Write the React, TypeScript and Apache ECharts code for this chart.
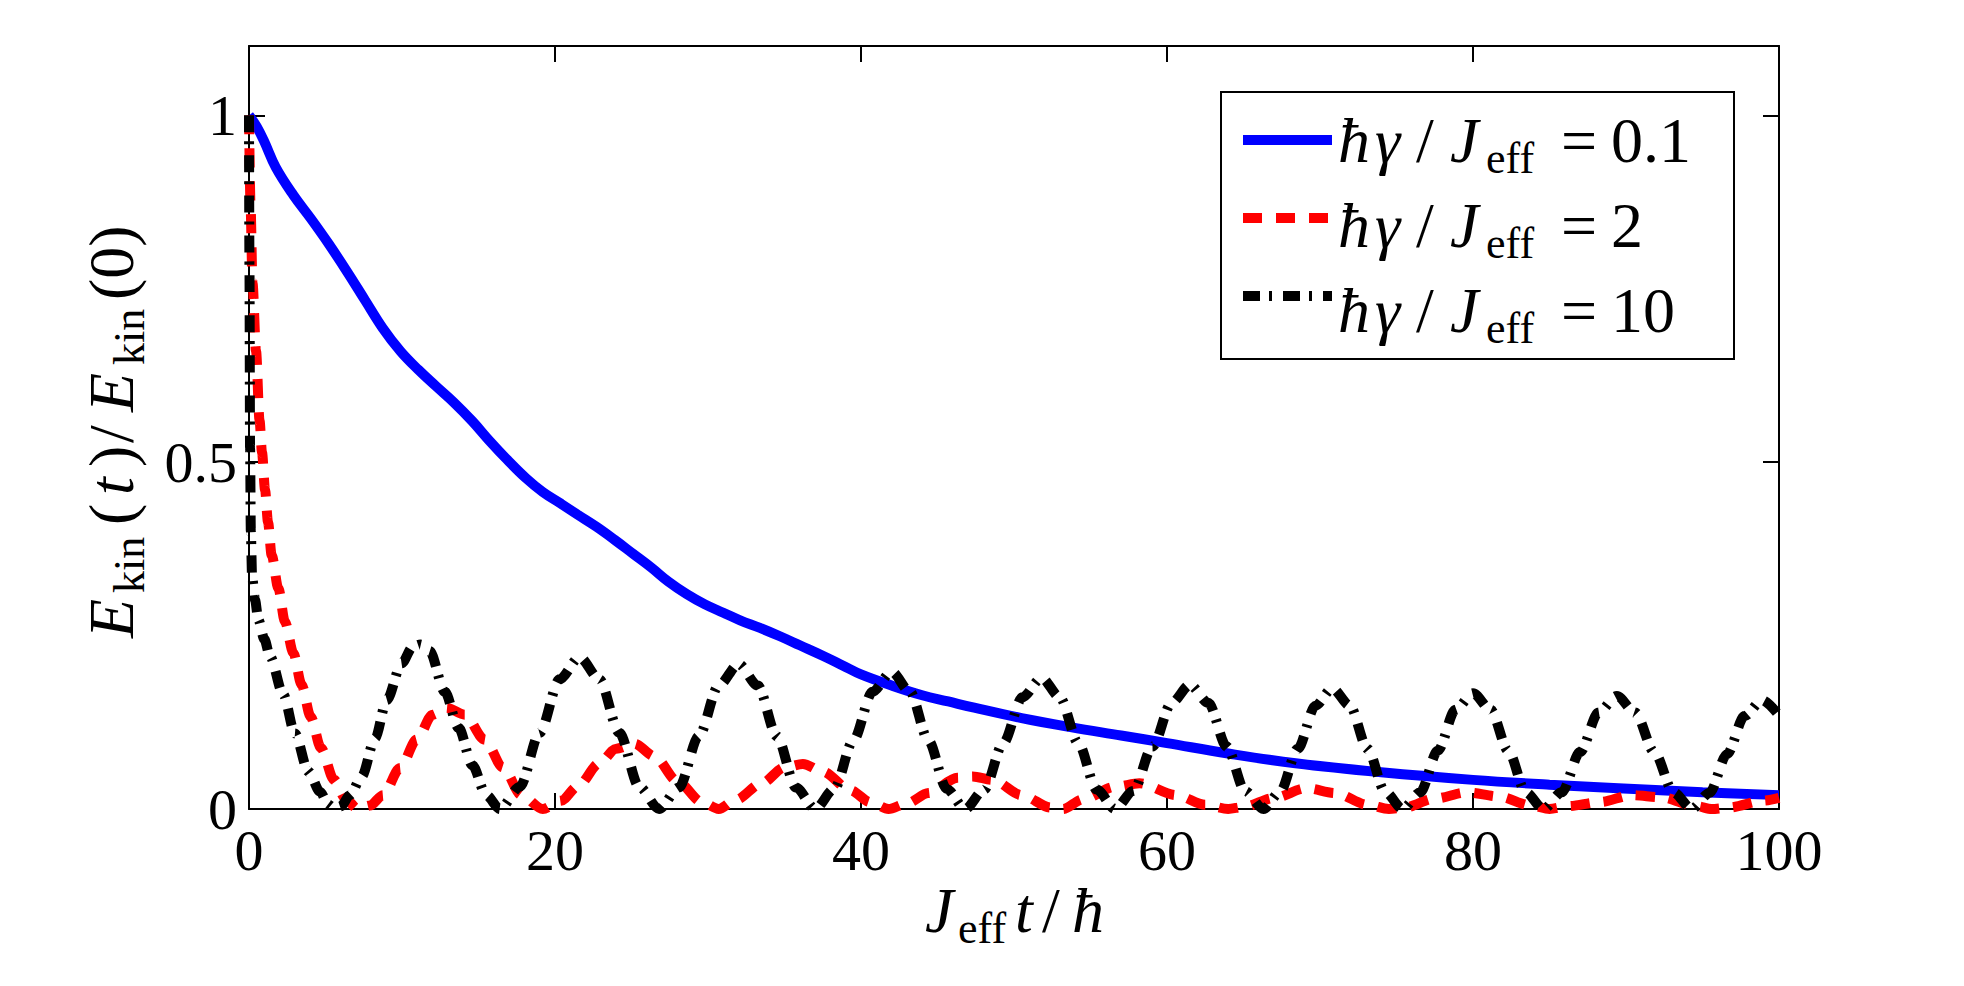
import React, { useEffect, useRef } from "react";
import * as echarts from "echarts";

// ---- data ----
const T_BLUE = [0, 0.5, 1.0, 1.75, 2.9, 4.08, 5.2, 6.4, 7.6, 8.75, 9.9, 11.08, 12.2, 13.4, 14.6, 15.75, 16.9, 18.1, 19.2, 20.4, 21.5, 22.7, 23.9, 25.1, 26.3, 27.4, 28.6, 29.8, 31.0, 32.1, 33.4, 34.7, 36.0, 37.5, 38.8, 40.0, 42.0, 44.0, 45.7, 47.4, 50.5, 53.7, 57.0, 60.0, 64.0, 68.4, 74.0, 80.0, 85.0, 89.5, 95.0, 100];
const V_BLUE = [1.0, 0.984, 0.962, 0.925, 0.885, 0.85, 0.815, 0.775, 0.733, 0.693, 0.66, 0.633, 0.61, 0.586, 0.559, 0.53, 0.503, 0.477, 0.457, 0.44, 0.424, 0.407, 0.388, 0.368, 0.348, 0.328, 0.31, 0.295, 0.283, 0.272, 0.261, 0.249, 0.236, 0.221, 0.207, 0.194, 0.178, 0.164, 0.155, 0.146, 0.131, 0.118, 0.106, 0.095, 0.08, 0.066, 0.053, 0.042, 0.035, 0.03, 0.024, 0.02];

const T_RED = [0, 0.1, 0.23, 0.46, 0.69, 0.85, 1.05, 1.24, 1.48, 1.92, 2.35, 2.9, 3.44, 4.03, 4.7, 5.56, 6.3, 7.1, 7.9, 8.76, 9.87, 10.96, 12.0, 12.9, 14.1, 15.4, 16.6, 17.8, 19.2, 20.4, 21.5, 22.9, 24.0, 25.2, 26.5, 28.0, 29.6, 30.7, 31.8, 33.5, 35.0, 36.2, 37.5, 39.3, 40.6, 41.8, 43.0, 44.4, 46.3, 47.3, 48.6, 50.5, 52.4, 53.2, 54.5, 56.6, 58.2, 60.6, 62.5, 64.0, 65.0, 67.0, 69.1, 71.0, 73.1, 74.5, 75.5, 77.5, 79.6, 81.7, 83.8, 85.0, 86.2, 88.3, 90.4, 92.3, 94.6, 95.6, 96.7, 99.0, 100];
const V_RED = [1.0, 0.87, 0.758, 0.66, 0.56, 0.514, 0.46, 0.414, 0.366, 0.318, 0.27, 0.225, 0.179, 0.133, 0.088, 0.042, 0.015, 0.0, 0.005, 0.02, 0.059, 0.1, 0.136, 0.146, 0.136, 0.1, 0.06, 0.02, 0.0, 0.012, 0.033, 0.066, 0.087, 0.094, 0.076, 0.04, 0.01, 0.0, 0.013, 0.037, 0.06, 0.065, 0.054, 0.027, 0.01, 0.0, 0.008, 0.023, 0.045, 0.047, 0.042, 0.02, 0.002, 0.0, 0.014, 0.032, 0.037, 0.02, 0.006, 0.0, 0.003, 0.016, 0.03, 0.023, 0.006, 0.0, 0.002, 0.015, 0.024, 0.018, 0.005, 0.0, 0.004, 0.01, 0.02, 0.017, 0.004, 0.0, 0.002, 0.012, 0.016];

const T_BLACK = [0, 0.03, 0.07, 0.12, 0.2, 0.39, 0.61, 1.0, 1.37, 2.24, 3.0, 3.88, 4.64, 5.2, 5.6, 6.0, 6.6, 7.37, 8.24, 9.0, 9.98, 10.7, 11.2, 11.8, 12.8, 13.7, 14.6, 15.5, 16.4, 17.7, 19.0, 20.3, 21.6, 22.9, 24.2, 25.5, 26.8, 28.1, 29.4, 30.7, 32.0, 33.25, 34.5, 35.75, 37.0, 38.25, 39.5, 40.75, 42.0, 43.2, 44.4, 45.6, 46.8, 48.05, 49.3, 50.55, 51.8, 53.0, 54.2, 55.4, 56.6, 57.8, 59.05, 60.3, 61.5, 62.7, 63.9, 65.1, 66.3, 67.4, 68.55, 69.7, 70.8, 71.95, 73.1, 74.25, 75.4, 76.55, 77.7, 78.85, 80.0, 81.15, 82.3, 83.45, 84.6, 85.8, 87.0, 88.2, 89.4, 90.6, 91.85, 93.1, 94.3, 95.45, 96.6, 97.75, 98.9, 100];
const V_BLACK = [1.0, 0.78, 0.52, 0.4, 0.335, 0.302, 0.273, 0.245, 0.22, 0.165, 0.109, 0.054, 0.025, 0.006, 0.0, 0.004, 0.02, 0.047, 0.102, 0.157, 0.21, 0.234, 0.237, 0.228, 0.169, 0.117, 0.063, 0.02, 0.0, 0.032, 0.11, 0.187, 0.219, 0.187, 0.11, 0.032, 0.0, 0.031, 0.105, 0.178, 0.209, 0.178, 0.105, 0.031, 0.0, 0.029, 0.099, 0.169, 0.198, 0.169, 0.099, 0.029, 0.0, 0.028, 0.095, 0.161, 0.189, 0.161, 0.095, 0.028, 0.0, 0.026, 0.09, 0.153, 0.179, 0.153, 0.09, 0.026, 0.0, 0.025, 0.087, 0.149, 0.174, 0.149, 0.087, 0.025, 0.0, 0.024, 0.084, 0.143, 0.167, 0.143, 0.084, 0.024, 0.0, 0.024, 0.082, 0.139, 0.163, 0.139, 0.082, 0.024, 0.0, 0.023, 0.079, 0.134, 0.157, 0.135];

const SERIES_NAMES = ["ħγ/J_eff =0.1", "ħγ/J_eff =2", "ħγ/J_eff =10"];
const LEGEND_VALUES = ["0.1", "2", "10"];
const X_TICKS = [0, 20, 40, 60, 80, 100];
const Y_TICKS = [0, 0.5, 1];

const FONT = "Liberation Serif";

function pairs(t: number[], v: number[]) {
  return t.map((x, i) => [x, v[i]]);
}

type Piece = { text: string; d: number; italic: boolean; sub: boolean };

function fontOf(p: Piece) {
  return `${p.italic ? "italic " : ""}${p.sub ? 44 : 64}px ${FONT}`;
}

export default function App() {
  const ref = useRef<HTMLDivElement>(null);
  useEffect(() => {
    document.body.style.margin = "0";
    if (!ref.current) return;
    const chart = echarts.init(ref.current, null, { renderer: "svg" });

    const texts: any[] = [];
    const addText = (p: Piece, x: number, y: number, rotation = 0) => {
      texts.push({
        type: "text",
        z: 6,
        x,
        y,
        rotation,
        style: {
          text: p.text,
          font: fontOf(p),
          fill: "#000",
          verticalAlign: "middle",
          align: "left",
        },
      });
    };

    // legend labels: ħγ/J_eff =value
    const LEGEND_ROW_Y = [140, 225, 310];
    LEGEND_VALUES.forEach((val, i) => {
      const pieces: Piece[] = [
        { text: "ħ", d: 0, italic: true, sub: false },
        { text: "γ", d: 37, italic: true, sub: false },
        { text: "/", d: 78, italic: false, sub: false },
        { text: "J", d: 112, italic: true, sub: false },
        { text: "eff", d: 148, italic: false, sub: true },
        { text: "=", d: 223, italic: false, sub: false },
        { text: val, d: 273, italic: false, sub: false },
      ];
      pieces.forEach((p) => addText(p, 1338 + p.d, LEGEND_ROW_Y[i] + (p.sub ? 18 : 0)));
    });

    // x axis title: J_eff t/ħ
    const xPieces: Piece[] = [
      { text: "J", d: 0, italic: true, sub: false },
      { text: "eff", d: 33, italic: false, sub: true },
      { text: "t", d: 90, italic: true, sub: false },
      { text: "/", d: 117, italic: false, sub: false },
      { text: "ħ", d: 147, italic: true, sub: false },
    ];
    xPieces.forEach((p) => addText(p, 925 + p.d, 910 + (p.sub ? 18 : 0)));

    // y axis title: E_kin(t)/E_kin(0), rotated, reading upward
    const yPieces: Piece[] = [
      { text: "E", d: 0, italic: true, sub: false },
      { text: "kin", d: 45, italic: false, sub: true },
      { text: "(", d: 113, italic: false, sub: false },
      { text: "t", d: 143, italic: true, sub: false },
      { text: ")", d: 171, italic: false, sub: false },
      { text: "/", d: 195, italic: false, sub: false },
      { text: "E", d: 226, italic: true, sub: false },
      { text: "kin", d: 273, italic: false, sub: true },
      { text: "(0)", d: 338, italic: false, sub: false },
    ];
    yPieces.forEach((p) => addText(p, 111 + (p.sub ? 18 : 0), 638 - p.d, Math.PI / 2));

    const axisLine = { show: true, onZero: false, lineStyle: { color: "#000", width: 2 } };
    const axisTick = { show: true, inside: true, length: 16, lineStyle: { color: "#000", width: 2 } };

    const option: any = {
      animation: false,
      backgroundColor: "#fff",
      textStyle: { fontFamily: FONT, color: "#000" },
      grid: { left: 249, right: 185, top: 46, bottom: 177, containLabel: false, outerBoundsMode: "none" },
      xAxis: [
        {
          type: "value",
          min: 0,
          max: 100,
          interval: 20,
          position: "bottom",
          axisLine,
          axisTick,
          splitLine: { show: false },
          axisLabel: {
            show: true,
            margin: 12,
            fontFamily: FONT,
            fontSize: 58,
            color: "#000",
            formatter: (v: number) => (X_TICKS.indexOf(v) >= 0 ? String(v) : ""),
          },
        },
        {
          type: "value",
          min: 0,
          max: 100,
          interval: 20,
          position: "top",
          axisLine,
          axisTick,
          splitLine: { show: false },
          axisLabel: { show: false },
        },
      ],
      yAxis: [
        {
          type: "value",
          min: 0,
          max: 1.1,
          interval: 0.5,
          position: "left",
          axisLine,
          axisTick,
          splitLine: { show: false },
          axisLabel: {
            show: true,
            margin: 12,
            showMaxLabel: false,
            fontFamily: FONT,
            fontSize: 58,
            color: "#000",
            formatter: (v: number) => (Y_TICKS.indexOf(v) >= 0 ? String(v) : ""),
          },
        },
        {
          type: "value",
          min: 0,
          max: 1.1,
          interval: 0.5,
          position: "right",
          axisLine,
          axisTick,
          splitLine: { show: false },
          axisLabel: { show: false },
        },
      ],
      legend: {
        show: true,
        orient: "vertical",
        left: 1238,
        top: 105,
        padding: 0,
        itemWidth: 89,
        itemHeight: 70,
        itemGap: 15,
        z: 5,
        selectedMode: false,
        data: SERIES_NAMES,
        lineStyle: { width: 10 },
        itemStyle: { opacity: 0, borderWidth: 0 },
        formatter: () => "",
        textStyle: { fontFamily: FONT, fontSize: 64, color: "#000" },
      },
      graphic: [
        {
          type: "rect",
          z: 3,
          shape: { x: 1221, y: 92, width: 513, height: 267 },
          style: { fill: "#fff", stroke: "#000", lineWidth: 2 },
        },
        ...texts,
      ],
      series: [
        {
          name: SERIES_NAMES[0],
          type: "line",
          data: pairs(T_BLUE, V_BLUE),
          showSymbol: false,
          symbol: "none",
          smooth: 0.4,
          color: "#0000ff",
          lineStyle: { color: "#0000ff", width: 10, type: "solid" },
          z: 2,
        },
        {
          name: SERIES_NAMES[1],
          type: "line",
          data: pairs(T_RED, V_RED),
          showSymbol: false,
          symbol: "none",
          smooth: 0.3,
          smoothMonotone: "x",
          color: "#ff0000",
          lineStyle: { color: "#ff0000", width: 10, type: [19, 14], cap: "butt" },
          z: 2,
        },
        {
          name: SERIES_NAMES[2],
          type: "line",
          data: pairs(T_BLACK, V_BLACK),
          showSymbol: false,
          symbol: "none",
          smooth: 0.3,
          smoothMonotone: "x",
          color: "#000000",
          lineStyle: { color: "#000000", width: 10, type: [17, 9, 3, 11], cap: "butt" },
          z: 2,
        },
      ],
    };
    chart.setOption(option);
    return () => chart.dispose();
  }, []);
  return <div ref={ref} style={{ width: "1964px", height: "986px" }} />;
}
